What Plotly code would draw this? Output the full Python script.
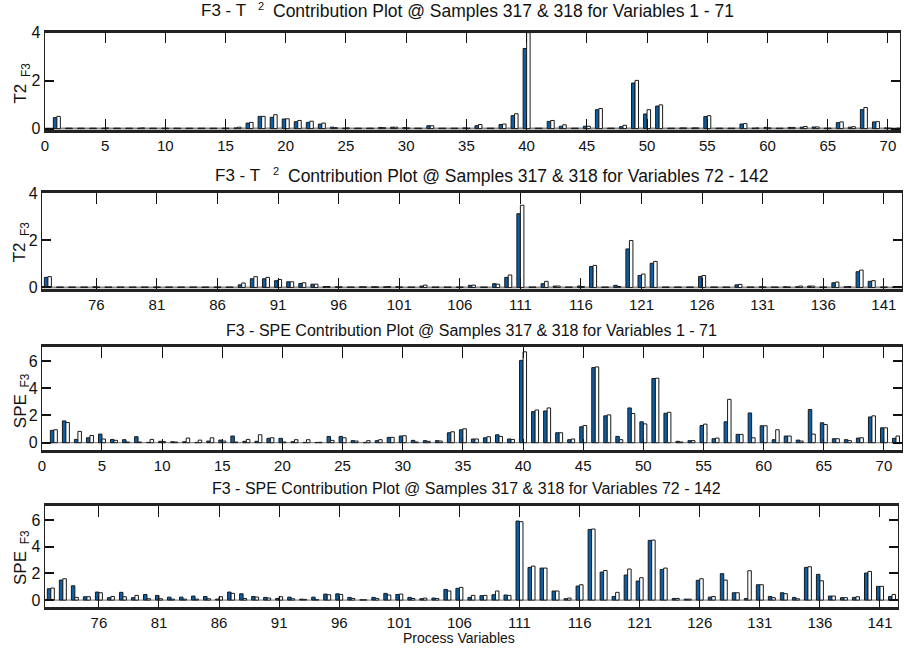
import plotly.graph_objects as go

# ---------------- data ----------------
vars_a = list(range(1, 72))      # variables 1 - 71
vars_b = list(range(72, 143))    # variables 72 - 142

t2_a_317 = [0.46, 0.02, 0.02, 0.02, 0.02, 0.02, 0.02, 0.02, 0.02, 0.02,
            0.02, 0.02, 0.02, 0.02, 0.02, 0.03, 0.23, 0.51, 0.47, 0.40,
            0.29, 0.26, 0.19, 0.06, 0.02, 0.02, 0.02, 0.05, 0.06, 0.04,
            0.02, 0.12, 0.02, 0.02, 0.03, 0.12, 0.02, 0.17, 0.54, 3.34,
            0.02, 0.30, 0.10, 0.02, 0.10, 0.79, 0.02, 0.08, 1.90, 0.61,
            0.94, 0.02, 0.03, 0.03, 0.50, 0.02, 0.02, 0.19, 0.02, 0.05,
            0.02, 0.05, 0.06, 0.07, 0.02, 0.25, 0.06, 0.79, 0.28, 0.03,
            0.02]
t2_a_318 = [0.51, 0.02, 0.02, 0.02, 0.03, 0.02, 0.02, 0.03, 0.02, 0.02,
            0.02, 0.02, 0.02, 0.02, 0.02, 0.06, 0.26, 0.51, 0.58, 0.41,
            0.34, 0.31, 0.23, 0.04, 0.03, 0.02, 0.02, 0.04, 0.06, 0.03,
            0.02, 0.12, 0.02, 0.02, 0.02, 0.17, 0.02, 0.19, 0.62, 4.00,
            0.02, 0.34, 0.16, 0.02, 0.10, 0.84, 0.02, 0.14, 2.01, 0.79,
            0.99, 0.02, 0.03, 0.03, 0.54, 0.02, 0.02, 0.21, 0.03, 0.03,
            0.02, 0.05, 0.09, 0.07, 0.02, 0.28, 0.08, 0.88, 0.29, 0.02,
            0.02]

t2_b_317 = [0.43, 0.02, 0.02, 0.02, 0.03, 0.02, 0.02, 0.02, 0.02, 0.02,
            0.02, 0.02, 0.02, 0.02, 0.02, 0.02, 0.11, 0.37, 0.37, 0.29,
            0.24, 0.17, 0.14, 0.04, 0.03, 0.02, 0.03, 0.03, 0.03, 0.03,
            0.02, 0.06, 0.02, 0.02, 0.02, 0.09, 0.02, 0.16, 0.43, 3.14,
            0.02, 0.16, 0.06, 0.02, 0.06, 0.89, 0.02, 0.09, 1.64, 0.51,
            1.03, 0.02, 0.02, 0.02, 0.47, 0.02, 0.02, 0.11, 0.02, 0.03,
            0.02, 0.03, 0.03, 0.06, 0.02, 0.20, 0.03, 0.67, 0.26, 0.02,
            0.02]
t2_b_318 = [0.46, 0.02, 0.02, 0.02, 0.02, 0.02, 0.02, 0.02, 0.02, 0.02,
            0.02, 0.02, 0.02, 0.02, 0.02, 0.02, 0.19, 0.46, 0.43, 0.34,
            0.24, 0.20, 0.14, 0.04, 0.03, 0.02, 0.03, 0.03, 0.04, 0.02,
            0.02, 0.10, 0.02, 0.02, 0.02, 0.10, 0.02, 0.14, 0.53, 3.50,
            0.02, 0.26, 0.06, 0.02, 0.04, 0.94, 0.02, 0.04, 2.00, 0.57,
            1.11, 0.02, 0.02, 0.02, 0.51, 0.02, 0.02, 0.13, 0.02, 0.02,
            0.02, 0.02, 0.06, 0.06, 0.02, 0.23, 0.04, 0.74, 0.29, 0.02,
            0.02]

spe_a_317 = [0.90, 1.60, 0.24, 0.36, 0.63, 0.24, 0.22, 0.44, 0.02, 0.10,
             0.07, 0.07, 0.02, 0.12, 0.19, 0.49, 0.10, 0.10, 0.32, 0.32,
             0.07, 0.02, 0.02, 0.46, 0.46, 0.15, 0.02, 0.15, 0.39, 0.49,
             0.17, 0.15, 0.15, 0.73, 0.95, 0.27, 0.36, 0.58, 0.27, 6.04,
             2.28, 2.33, 0.73, 0.22, 1.17, 5.51, 1.97, 0.46, 2.55, 1.53,
             4.71, 2.16, 0.10, 0.15, 1.26, 0.29, 1.53, 0.61, 2.18, 1.24,
             0.22, 0.49, 0.19, 2.43, 1.46, 0.29, 0.22, 0.34, 1.89, 1.09,
             0.32]
spe_a_318 = [0.95, 1.48, 0.83, 0.53, 0.27, 0.17, 0.05, 0.05, 0.24, 0.08,
             0.05, 0.34, 0.19, 0.36, 0.12, 0.05, 0.24, 0.58, 0.36, 0.05,
             0.22, 0.22, 0.03, 0.17, 0.36, 0.12, 0.15, 0.22, 0.39, 0.51,
             0.05, 0.10, 0.12, 0.80, 1.02, 0.27, 0.44, 0.46, 0.24, 6.67,
             2.40, 2.55, 0.73, 0.27, 1.26, 5.56, 2.04, 0.22, 2.14, 1.38,
             4.73, 2.23, 0.05, 0.15, 1.36, 0.34, 3.18, 0.61, 0.36, 1.24,
             0.95, 0.49, 0.12, 0.63, 1.33, 0.29, 0.15, 0.36, 1.97, 1.09,
             0.49]

spe_b_317 = [0.85, 1.50, 1.07, 0.25, 0.60, 0.18, 0.58, 0.18, 0.42, 0.35,
             0.22, 0.22, 0.30, 0.27, 0.07, 0.60, 0.47, 0.27, 0.20, 0.12,
             0.22, 0.07, 0.22, 0.45, 0.47, 0.20, 0.02, 0.20, 0.50, 0.42,
             0.20, 0.10, 0.15, 0.80, 0.88, 0.20, 0.33, 0.40, 0.38, 5.93,
             2.45, 2.40, 0.68, 0.10, 1.05, 5.30, 2.10, 0.27, 1.88, 1.43,
             4.48, 2.30, 0.12, 0.07, 1.48, 0.22, 1.98, 0.55, 0.12, 1.15,
             0.27, 0.55, 0.20, 2.45, 1.93, 0.30, 0.18, 0.20, 2.03, 1.03,
             0.27]
spe_b_318 = [0.90, 1.60, 0.20, 0.25, 0.55, 0.27, 0.25, 0.35, 0.10, 0.10,
             0.07, 0.07, 0.07, 0.10, 0.25, 0.50, 0.12, 0.22, 0.15, 0.25,
             0.10, 0.05, 0.03, 0.40, 0.42, 0.12, 0.02, 0.12, 0.38, 0.45,
             0.12, 0.15, 0.12, 0.68, 0.95, 0.35, 0.35, 0.68, 0.35, 5.88,
             2.55, 2.40, 0.68, 0.15, 1.15, 5.33, 2.22, 0.58, 2.33, 1.68,
             4.50, 2.40, 0.12, 0.07, 1.60, 0.27, 1.50, 0.55, 2.20, 1.15,
             0.18, 0.48, 0.10, 2.50, 1.45, 0.30, 0.18, 0.25, 2.15, 1.03,
             0.42]

ticks_a = list(range(0, 71, 5))
ticks_b = list(range(76, 142, 5))

title_rest_a = "Contribution Plot @ Samples 317 & 318 for Variables 1 - 71"
title_rest_b = "Contribution Plot @ Samples 317 & 318 for Variables 72 - 142"

panels = [
    dict(x=vars_a, s1=t2_a_317, s2=t2_a_318, ticks=ticks_a, yt=[0, 2, 4],
         xr=[0, 71], yr=[-0.06, 4], px=(41, 900), py=(32, 129.5), kind="T2",
         title=title_rest_a, tpos=(220, 258, 268, 10), ylab=82),
    dict(x=vars_b, s1=t2_b_317, s2=t2_b_318, ticks=ticks_b, yt=[0, 2, 4],
         xr=[71.5, 142.5], yr=[-0.06, 4], px=(38, 902), py=(193, 288.5), kind="T2",
         title=title_rest_b, tpos=(235, 273, 283, 175), ylab=241),
    dict(x=vars_a, s1=spe_a_317, s2=spe_a_318, ticks=ticks_a, yt=[0, 2, 4, 6],
         xr=[0, 71.5], yr=[-0.55, 7], px=(38, 902), py=(347, 450), kind="SPE",
         title="F3 - SPE " + title_rest_a, tpos=(470, 330), ylab=400),
    dict(x=vars_b, s1=spe_b_317, s2=spe_b_318, ticks=ticks_b, yt=[0, 2, 4, 6],
         xr=[71.5, 142.5], yr=[-0.52, 7.05], px=(41, 898), py=(506, 607), kind="SPE",
         title="F3 - SPE " + title_rest_b, tpos=(465, 488), ylab=557),
]

W, H = 904, 648
BLUE = "#0A5FA8"
FONT = "Liberation Sans, Arial, sans-serif"

# the page is shown slightly squeezed vertically (about 0.978 with a 7 px top
# offset); vertical pixel positions are laid out through the inverse mapping
Y_SCALE, Y_OFF = 0.978, 7.3


def fx(p):
    return p / W


def fy(p):
    return 1 - ((p - Y_OFF) / Y_SCALE) / H


def label(text, x, y, size, xanchor="center", **kw):
    return dict(text=text, x=fx(x), y=fy(y), xref="paper", yref="paper",
                xanchor=xanchor, yanchor="middle", showarrow=False,
                font=dict(size=size), **kw)


fig = go.Figure()
layout = dict(
    width=W, height=H, margin=dict(l=0, r=0, t=0, b=0), autosize=False,
    paper_bgcolor="white", plot_bgcolor="white", showlegend=False,
    barmode="group", bargap=0.42, bargroupgap=0.0,
    font=dict(family=FONT, size=14, color="#111"),
)
annotations = []
shapes = []

for i, p in enumerate(panels, start=1):
    xa = "x" if i == 1 else f"x{i}"
    ya = "y" if i == 1 else f"y{i}"
    for vals, fill in ((p["s1"], BLUE), (p["s2"], "white")):
        fig.add_trace(go.Bar(
            x=p["x"], y=vals, xaxis=xa, yaxis=ya, offsetgroup=fill,
            marker=dict(color=fill, line=dict(color="#1a1a1a", width=1)),
        ))
    layout[f"xaxis{'' if i == 1 else i}"] = dict(
        domain=[fx(p["px"][0]), fx(p["px"][1])], anchor=ya,
        range=p["xr"], tickmode="array", tickvals=p["ticks"],
        ticks="inside", ticklen=11, tickwidth=1.3, tickcolor="#111",
        showline=True, linewidth=2.5, linecolor="#222", mirror="ticks",
        showgrid=False, zeroline=False, tickfont=dict(size=15),
    )
    layout[f"yaxis{'' if i == 1 else i}"] = dict(
        domain=[fy(p["py"][1]), fy(p["py"][0])], anchor=xa,
        range=p["yr"], tickmode="array", tickvals=p["yt"],
        ticks="inside", ticklen=9, tickwidth=2, tickcolor="#111",
        showline=True, linewidth=1.2, linecolor="#222", mirror="ticks",
        showgrid=False, zeroline=False, tickfont=dict(size=16),
    )
    # bar baseline at zero
    shapes.append(dict(type="line", xref=f"{xa} domain", yref=ya, x0=0, x1=1,
                       y0=0, y1=0, layer="below",
                       line=dict(color="#8c8c8c", width=2 if p["kind"] == "T2" else 1.2)))

    if p["kind"] == "T2":
        cx_left, cx_sup, x_rest, ty = p["tpos"]
        annotations.append(label("F3 - T", cx_left, ty, 17))
        annotations.append(label("2", cx_sup, ty - 5, 11))
        annotations.append(label(p["title"], x_rest, ty, 17.5, xanchor="left"))
        annotations.append(label("T2<sub>  F3</sub>", 18, p["ylab"], 17, textangle=-90))
    else:
        cx, ty = p["tpos"]
        annotations.append(label(p["title"], cx, ty, 16))
        annotations.append(label("SPE<sub>  F3</sub>", 18, p["ylab"], 17, textangle=-90))

annotations.append(label("Process Variables", 457, 638, 14))

layout["annotations"] = annotations
layout["shapes"] = shapes
fig.update_layout(**layout)
fig.write_html("out.html")
